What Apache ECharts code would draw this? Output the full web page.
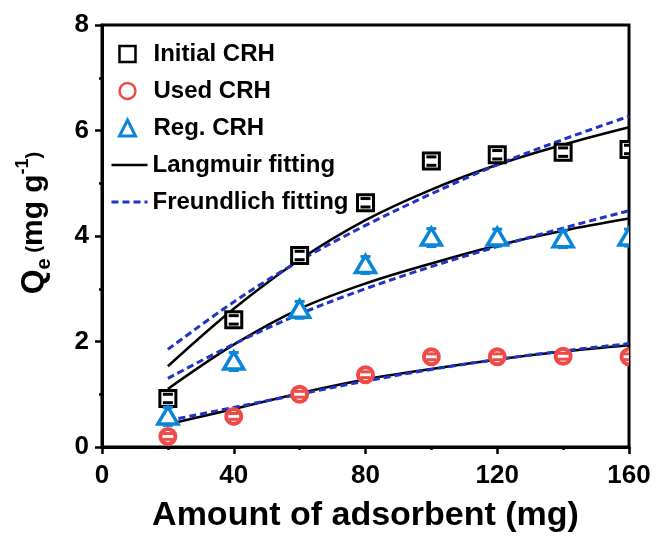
<!DOCTYPE html>
<html>
<head>
<meta charset="utf-8">
<script src="https://cdn.jsdelivr.net/npm/echarts@6/dist/echarts.min.js"></script>
<style>
  html, body { margin: 0; padding: 0; background: #fff; }
  #chart { width: 656px; height: 538px; }
</style>
</head>
<body>
<div id="chart"></div>
<script>
// Adsorbent dose (mg)
const doses = [20, 40, 60, 80, 100, 120, 140, 160];

// Measured uptake Qe (mg g-1)
const initialCRH = [0.92, 2.41, 3.63, 4.63, 5.42, 5.54, 5.59, 5.64];
const usedCRH    = [0.20, 0.58, 1.00, 1.37, 1.71, 1.71, 1.72, 1.71];
const regCRH     = [0.58, 1.62, 2.60, 3.45, 3.97, 3.97, 3.94, 3.97];

// Error bar half-heights
const initialErr = [0.08, 0.08, 0.08, 0.08, 0.08, 0.08, 0.08, 0.08];
const usedErr    = [0.055, 0.055, 0.055, 0.055, 0.055, 0.055, 0.055, 0.055];
const regErr     = [0.17, 0.17, 0.16, 0.16, 0.17, 0.16, 0.16, 0.16];

// Fitted isotherms, sampled at the same doses
const initialLangmuir   = [1.53, 2.62, 3.55, 4.30, 4.88, 5.35, 5.73, 6.06];
const initialFreundlich = [1.85, 2.75, 3.53, 4.20, 4.80, 5.35, 5.83, 6.27];
const regLangmuir       = [1.10, 1.94, 2.62, 3.10, 3.48, 3.82, 4.10, 4.33];
const regFreundlich     = [1.30, 1.95, 2.52, 3.00, 3.42, 3.80, 4.15, 4.48];
const usedLangmuir      = [0.43, 0.72, 1.02, 1.28, 1.48, 1.66, 1.81, 1.93];
const usedFreundlich    = [0.50, 0.75, 1.00, 1.25, 1.47, 1.66, 1.82, 1.96];

// Axis ticks
const xTicks = { min: 0, max: 160, interval: 40 };
const yTicks = { min: 0, max: 8, interval: 2 };

const FONT = '"Liberation Sans", Arial, Helvetica, sans-serif';
const BLACK = '#000000';
const RED = '#f04a48';
const BLUE = '#0a86d8';
const NAVY = '#1f33c4';

const pairs = (ys) => doses.map((x, i) => [x, ys[i]]);
const triples = (ys, es) => doses.map((x, i) => [x, ys[i], es[i]]);

// One hollow marker plus its error-bar caps (the stem hides behind the marker)
function markerItem(shape, color, lineWidth) {
  return function (params, api) {
    const x = api.value(0), y = api.value(1), e = api.value(2);
    const c = api.coord([x, y]);
    const top = api.coord([x, y + e]);
    const bot = api.coord([x, y - e]);
    const body = { fill: '#ffffff', stroke: color, lineWidth };
    let mark;
    if (shape === 'square') {
      mark = { type: 'rect', shape: { x: c[0] - 8, y: c[1] - 8, width: 16, height: 16 }, style: body };
    } else if (shape === 'circle') {
      mark = { type: 'circle', shape: { cx: c[0], cy: c[1], r: 7.5 }, style: body };
    } else {
      mark = {
        type: 'polygon',
        shape: { points: [[c[0], c[1] - 9.5], [c[0] + 10, c[1] + 7.5], [c[0] - 10, c[1] + 7.5]] },
        style: body
      };
    }
    const cap = { stroke: color, lineWidth: 3 };
    const hw = 5;
    return {
      type: 'group',
      children: [
        mark,
        { type: 'line', shape: { x1: top[0] - hw, y1: top[1], x2: top[0] + hw, y2: top[1] }, style: cap },
        { type: 'line', shape: { x1: bot[0] - hw, y1: bot[1], x2: bot[0] + hw, y2: bot[1] }, style: cap }
      ]
    };
  };
}

function points(name, ys, es, shape, color, lineWidth) {
  return {
    name, type: 'custom', data: triples(ys, es),
    renderItem: markerItem(shape, color, lineWidth),
    itemStyle: { color: color },
    z: 4, clip: true, silent: true
  };
}

function fit(name, ys, color, dashed) {
  return {
    name, type: 'line', data: pairs(ys), smooth: 0.35, symbol: 'none', z: 3,
    lineStyle: dashed
      ? { color, width: 3, type: [7, 4] }
      : { color, width: 2.5, type: 'solid' },
    itemStyle: { color }
  };
}

const chart = echarts.init(document.getElementById('chart'), null, { renderer: 'canvas' });

chart.setOption({
  animation: false,
  backgroundColor: '#ffffff',
  grid: {
    left: 102, right: 27, top: 25, bottom: 87,
    show: true, borderColor: BLACK, borderWidth: 3, backgroundColor: 'transparent'
  },
  legend: [
    {
      orient: 'vertical', left: 113, top: 37, itemWidth: 16, itemHeight: 16, itemGap: 13,
      selectedMode: false,
      textStyle: { fontFamily: FONT, fontSize: 24, fontWeight: 'bold', color: BLACK, padding: [0, 0, 0, 13] },
      data: [
        { name: 'Initial CRH', icon: 'rect', itemStyle: { color: '#ffffff', borderColor: BLACK, borderWidth: 2.5 } },
        { name: 'Used CRH', icon: 'circle', itemStyle: { color: '#ffffff', borderColor: RED, borderWidth: 2.5 } },
        { name: 'Reg. CRH', icon: 'triangle', itemStyle: { color: '#ffffff', borderColor: BLUE, borderWidth: 3 } }
      ]
    },
    {
      orient: 'vertical', left: 105, top: 148, itemWidth: 36, itemHeight: 16, itemGap: 13,
      selectedMode: false,
      textStyle: { fontFamily: FONT, fontSize: 24, fontWeight: 'bold', color: BLACK },
      data: [
        { name: 'Langmuir fitting', lineStyle: { width: 2.5 }, itemStyle: { color: 'transparent', borderWidth: 0, opacity: 0 } },
        { name: 'Freundlich fitting', lineStyle: { width: 3 }, itemStyle: { color: 'transparent', borderWidth: 0, opacity: 0 } }
      ]
    }
  ],
  xAxis: {
    type: 'value', min: xTicks.min, max: xTicks.max, interval: xTicks.interval,
    name: 'Amount of adsorbent (mg)', nameLocation: 'middle', nameGap: 52,
    nameTextStyle: { fontFamily: FONT, fontSize: 34, fontWeight: 'bold', color: BLACK },
    axisLine: { show: true, lineStyle: { color: BLACK, width: 3 } },
    axisTick: { show: true, length: 7, lineStyle: { color: BLACK, width: 2.5 } },
    minorTick: { show: true, splitNumber: 2, length: 3, lineStyle: { color: BLACK, width: 2.5 } },
    axisLabel: { fontFamily: FONT, fontSize: 26, fontWeight: 'bold', color: BLACK, margin: 16 },
    splitLine: { show: false }
  },
  yAxis: {
    type: 'value', min: yTicks.min, max: yTicks.max, interval: yTicks.interval,
    name: '{q|Q}{e|e}{p| (}{u|mg g}{s|-1}{p|)}',
    nameLocation: 'middle', nameRotate: 90, nameGap: 48,
    nameTextStyle: {
      color: BLACK, fontFamily: FONT, fontWeight: 'bold', padding: [0, 0, 0, 26],
      rich: {
        q: { fontFamily: FONT, fontSize: 32, fontWeight: 'bold', color: BLACK },
        e: { fontFamily: FONT, fontSize: 20, fontWeight: 'bold', color: BLACK, verticalAlign: 'top', padding: [20, 0, 0, 0] },
        p: { fontFamily: FONT, fontSize: 20, fontWeight: 'bold', color: BLACK },
        u: { fontFamily: FONT, fontSize: 30, fontWeight: 'bold', color: BLACK },
        s: { fontFamily: FONT, fontSize: 18, fontWeight: 'bold', color: BLACK, verticalAlign: 'top' }
      }
    },
    axisLine: { show: true, lineStyle: { color: BLACK, width: 3 } },
    axisTick: { show: true, length: 7, lineStyle: { color: BLACK, width: 2.5 } },
    minorTick: { show: true, splitNumber: 2, length: 3, lineStyle: { color: BLACK, width: 2.5 } },
    axisLabel: { fontFamily: FONT, fontSize: 26, fontWeight: 'bold', color: BLACK, margin: 13 },
    splitLine: { show: false }
  },
  series: [
    fit('Langmuir fitting', initialLangmuir, BLACK, false),
    fit('Freundlich fitting', initialFreundlich, NAVY, true),
    fit('Langmuir fitting', regLangmuir, BLACK, false),
    fit('Freundlich fitting', regFreundlich, NAVY, true),
    fit('Langmuir fitting', usedLangmuir, BLACK, false),
    fit('Freundlich fitting', usedFreundlich, NAVY, true),
    points('Initial CRH', initialCRH, initialErr, 'square', BLACK, 3),
    points('Used CRH', usedCRH, usedErr, 'circle', RED, 4),
    points('Reg. CRH', regCRH, regErr, 'triangle', BLUE, 3.5)
  ]
});
</script>
</body>
</html>
